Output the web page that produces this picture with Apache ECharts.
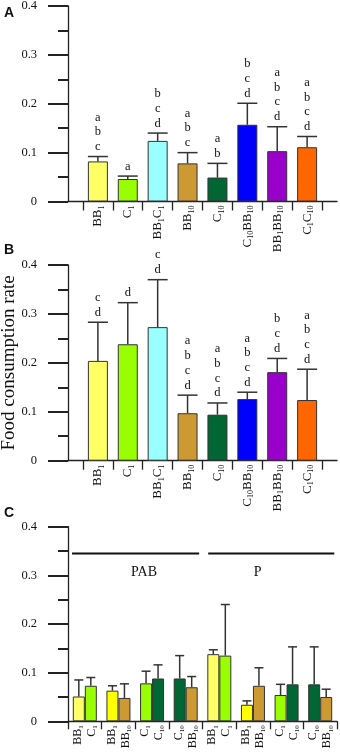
<!DOCTYPE html>
<html lang="en">
<head>
<meta charset="utf-8">
<title>Food consumption rate</title>
<script src="https://cdn.jsdelivr.net/npm/echarts@6/dist/echarts.min.js"></script>
<style>
  html, body { margin: 0; padding: 0; background: #fff; }
  #chart { width: 340px; height: 755px; }
</style>
</head>
<body>
<div id="chart"></div>
<script>
// treatments of panels A and B (rich text: n = normal, s = subscript)
var treatments = ['{n|BB}{s|1}', '{n|C}{s|1}', '{n|BB}{s|1}{n|C}{s|1}', '{n|BB}{s|10}', '{n|C}{s|10}',
  '{n|C}{s|10}{n|BB}{s|10}', '{n|BB}{s|1}{n|BB}{s|10}', '{n|C}{s|1}{n|C}{s|10}'];
var treatmentColors = ['#ffff66', '#99ff00', '#99ffff', '#cc9933', '#006633', '#0000ff', '#9900cc', '#ff6600'];

// panel A
var meanA = [0.082, 0.046, 0.124, 0.078, 0.049, 0.157, 0.103, 0.111];
var topA = [0.092, 0.052, 0.140, 0.100, 0.078, 0.201, 0.153, 0.133];
var lettersA = ['abc', 'a', 'bcd', 'abc', 'ab', 'bcd', 'abcd', 'abcd'];

// panel B
var meanB = [0.204, 0.238, 0.273, 0.097, 0.094, 0.126, 0.181, 0.124];
var topB = [0.283, 0.323, 0.370, 0.134, 0.118, 0.140, 0.209, 0.187];
var lettersB = ['cd', 'd', 'cd', 'abcd', 'abcd', 'abcd', 'bcd', 'abcd'];

// panel C: 8 pairs, left and right bar of each pair
var pairLeft = ['{n|BB}{s|1}', '{n|BB}{s|1}', '{n|C}{s|1}', '{n|C}{s|10}', '{n|BB}{s|1}', '{n|BB}{s|1}', '{n|C}{s|1}', '{n|C}{s|10}'];
var pairRight = ['{n|C}{s|1}', '{n|BB}{s|10}', '{n|C}{s|10}', '{n|BB}{s|10}', '{n|C}{s|1}', '{n|BB}{s|10}', '{n|C}{s|10}', '{n|BB}{s|10}'];
var colorLeft = ['#ffff66', '#ffff00', '#99ff00', '#006633', '#ffff66', '#ffff00', '#99ff00', '#006633'];
var colorRight = ['#99ff00', '#cc9933', '#006633', '#cc9933', '#99ff00', '#cc9933', '#006633', '#cc9933'];
var meanCLeft = [0.051, 0.063, 0.078, 0.088, 0.138, 0.034, 0.054, 0.076];
var topCLeft = [0.085, 0.073, 0.103, 0.135, 0.147, 0.042, 0.076, 0.153];
var meanCRight = [0.073, 0.048, 0.088, 0.070, 0.135, 0.073, 0.076, 0.050];
var topCRight = [0.090, 0.077, 0.116, 0.092, 0.240, 0.110, 0.153, 0.066];

// group brackets of panel C: from, to, level, label x, label y
var bracketNames = ['PAB', 'P'];
var bracketFrom = [0.12, 4.17];
var bracketTo = [3.9, 7.92];
var bracketLevel = [0.345, 0.345];
var bracketLabelX = [2.26, 5.64];
var bracketLabelY = [0.307, 0.307];

var serif = '"Liberation Serif", "Times New Roman", serif';
var ink = '#222';

var richAB = {
  n: { fontFamily: serif, fontSize: 13, lineHeight: 16, color: '#111' },
  s: { fontFamily: serif, fontSize: 8, lineHeight: 5, verticalAlign: 'bottom', color: '#111' }
};
var richC = {
  n: { fontFamily: serif, fontSize: 12, lineHeight: 14, color: '#111' },
  s: { fontFamily: serif, fontSize: 7, lineHeight: 5, verticalAlign: 'bottom', color: '#111' }
};

var idx = treatments.map(function (t, i) { return i; });
var edgesAB = idx.map(function (i) { return i - 0.5; }).concat([idx.length - 0.5]);
var centersC = pairLeft.map(function (t, i) { return i + 0.5; });

function yAxis(g, withName) {
  var ax = {
    type: 'value', gridIndex: g, min: 0, max: 0.4, interval: 0.1,
    axisLine: { show: true, onZero: false, lineStyle: { color: ink, width: 1.3 } },
    axisTick: { show: true, length: 20, lineStyle: { color: ink, width: 2 } },
    minorTick: { show: true, splitNumber: 2, length: 10, lineStyle: { color: ink, width: 2 } },
    axisLabel: { margin: 31, fontFamily: serif, fontSize: 12.5, color: '#111' },
    splitLine: { show: false }
  };
  if (withName) {
    ax.name = 'Food consumption rate';
    ax.nameLocation = 'middle';
    ax.nameGap = 49;
    ax.nameMoveOverlap = false;
    ax.nameTextStyle = { fontFamily: serif, fontSize: 19, color: '#111' };
  }
  return ax;
}

function xAxisAB(g) {
  return {
    type: 'value', gridIndex: g, min: -1, max: 8,
    axisLine: { show: true, onZero: false, lineStyle: { color: ink, width: 1.3 } },
    axisTick: { show: true, customValues: edgesAB, length: 9, lineStyle: { color: ink, width: 1.3 } },
    axisLabel: {
      customValues: idx, rotate: 90, margin: 4,
      formatter: function (v) { return treatments[Math.round(v)]; },
      rich: richAB
    },
    splitLine: { show: false }
  };
}

function barsAB(g, means) {
  return {
    type: 'bar', xAxisIndex: g, yAxisIndex: g, barWidth: 20, z: 2,
    itemStyle: { borderColor: '#333', borderWidth: 1 },
    data: means.map(function (v, i) {
      return { value: [i, v], itemStyle: { color: treatmentColors[i] } };
    })
  };
}

// error bar (upper only) with cap and optional letters above
function errorSeries(g, xs, means, tops, letters, offset, capW) {
  return {
    type: 'custom', xAxisIndex: g, yAxisIndex: g, z: 3, clip: false,
    data: means.map(function (v, i) { return [xs[i], v, tops[i]]; }),
    renderItem: function (params, api) {
      var base = api.coord([api.value(0), api.value(1)]);
      var tip = api.coord([api.value(0), api.value(2)]);
      var x = base[0] + offset;
      var children = [
        { type: 'line', shape: { x1: x, y1: base[1], x2: x, y2: tip[1] }, style: { stroke: '#333', lineWidth: 1.5 } },
        { type: 'line', shape: { x1: x - capW / 2, y1: tip[1], x2: x + capW / 2, y2: tip[1] }, style: { stroke: '#333', lineWidth: 1.5 } }
      ];
      if (letters) {
        children.push({
          type: 'text',
          style: {
            text: letters[params.dataIndex].split('').join('\n'),
            x: x, y: tip[1] - 2.5, align: 'center', verticalAlign: 'bottom',
            fontFamily: serif, fontSize: 12.5, lineHeight: 14.7, fill: '#111'
          }
        });
      }
      return { type: 'group', children: children };
    }
  };
}

var chart = echarts.init(document.getElementById('chart'), null, { renderer: 'canvas' });

chart.setOption({
  animation: false,
  backgroundColor: '#fff',
  grid: [
    { left: 68, width: 269, top: 6, height: 195.5, outerBoundsMode: 'none' },
    { left: 68, width: 269, top: 265, height: 195.7, outerBoundsMode: 'none' },
    { left: 68, width: 269, top: 526.7, height: 194.6, outerBoundsMode: 'none' }
  ],
  xAxis: [
    xAxisAB(0),
    xAxisAB(1),
    {
      type: 'value', gridIndex: 2, min: 0, max: 8, interval: 1,
      axisLine: { show: true, onZero: false, lineStyle: { color: ink, width: 1.3 } },
      axisTick: { show: true, length: 8, lineStyle: { color: ink, width: 1.3 } },
      axisLabel: {
        customValues: centersC, rotate: 90, margin: 4,
        formatter: function (v) { var i = Math.floor(v); return pairLeft[i] + '\n' + pairRight[i]; },
        rich: richC
      },
      splitLine: { show: false }
    }
  ],
  yAxis: [yAxis(0, false), yAxis(1, true), yAxis(2, false)],
  graphic: [
    { type: 'text', left: 4, top: 6, style: { text: 'A', font: 'bold 14px "Liberation Sans", Arial, sans-serif', fill: '#111' } },
    { type: 'text', left: 4, top: 243, style: { text: 'B', font: 'bold 14px "Liberation Sans", Arial, sans-serif', fill: '#111' } },
    { type: 'text', left: 4, top: 506, style: { text: 'C', font: 'bold 14px "Liberation Sans", Arial, sans-serif', fill: '#111' } }
  ],
  series: [
    barsAB(0, meanA),
    errorSeries(0, idx, meanA, topA, lettersA, 0, 20),
    barsAB(1, meanB),
    errorSeries(1, idx, meanB, topB, lettersB, 0, 20),
    {
      type: 'bar', xAxisIndex: 2, yAxisIndex: 2, barWidth: 12, barGap: '0%', z: 2,
      itemStyle: { borderColor: '#333', borderWidth: 1 },
      data: meanCLeft.map(function (v, i) { return { value: [centersC[i], v], itemStyle: { color: colorLeft[i] } }; })
    },
    {
      type: 'bar', xAxisIndex: 2, yAxisIndex: 2, barWidth: 12, barGap: '0%', z: 2,
      itemStyle: { borderColor: '#333', borderWidth: 1 },
      data: meanCRight.map(function (v, i) { return { value: [centersC[i], v], itemStyle: { color: colorRight[i] } }; })
    },
    errorSeries(2, centersC, meanCLeft, topCLeft, null, -6, 9),
    errorSeries(2, centersC, meanCRight, topCRight, null, 6, 9),
    {
      type: 'custom', xAxisIndex: 2, yAxisIndex: 2, z: 3, clip: false,
      data: bracketNames.map(function (n, i) {
        return [bracketFrom[i], bracketTo[i], bracketLevel[i], bracketLabelX[i], bracketLabelY[i]];
      }),
      renderItem: function (params, api) {
        var p0 = api.coord([api.value(0), api.value(2)]);
        var p1 = api.coord([api.value(1), api.value(2)]);
        var pl = api.coord([api.value(3), api.value(4)]);
        return {
          type: 'group',
          children: [
            { type: 'line', shape: { x1: p0[0], y1: p0[1], x2: p1[0], y2: p1[1] }, style: { stroke: '#111', lineWidth: 2 } },
            {
              type: 'text',
              style: {
                text: bracketNames[params.dataIndex], x: pl[0], y: pl[1], align: 'center', verticalAlign: 'middle',
                fontFamily: serif, fontSize: 14, fill: '#111'
              }
            }
          ]
        };
      }
    }
  ]
});
</script>
</body>
</html>
